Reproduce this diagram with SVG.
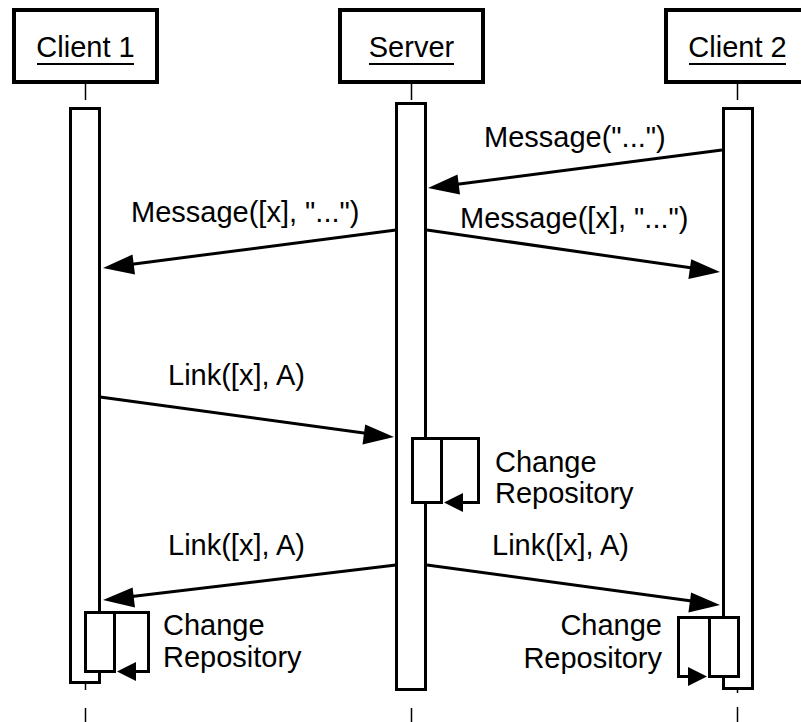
<svg xmlns="http://www.w3.org/2000/svg" width="801" height="722" viewBox="0 0 801 722">
<style>
text{font-family:"Liberation Sans",Arial,sans-serif;font-size:29px;fill:#000}
.hdr{fill:#fff;stroke:#000;stroke-width:4}
.bar{fill:#fff;stroke:#000;stroke-width:3}
.life{stroke:#000;stroke-width:1.5;fill:none}
.msg{stroke:#000;stroke-width:3;fill:none}
.head{fill:#000;stroke:none}
.ul{stroke:#000;stroke-width:2}
</style>
<rect width="801" height="722" fill="#fff"/>
<g id="client1">
<rect class="hdr" x="14" y="10" width="143" height="72"/>
<text x="85.5" y="57" text-anchor="middle">Client 1</text>
<line class="ul" x1="37" y1="64" x2="134" y2="64"/>
<line class="life" x1="85.5" y1="84" x2="85.5" y2="100"/>
<rect class="bar" x="70.5" y="108.5" width="29" height="574"/>
<line class="life" x1="85.5" y1="684" x2="85.5" y2="690"/>
<line class="life" x1="85.5" y1="708" x2="85.5" y2="722"/>
</g>
<g id="server">
<rect class="hdr" x="340" y="10" width="143" height="72"/>
<text x="411.5" y="57" text-anchor="middle">Server</text>
<line class="ul" x1="369" y1="64" x2="454" y2="64"/>
<line class="life" x1="411.5" y1="84" x2="411.5" y2="100"/>
<rect class="bar" x="396.5" y="103.5" width="29" height="586"/>
<line class="life" x1="411.5" y1="708" x2="411.5" y2="722"/>
</g>
<g id="client2">
<rect class="hdr" x="666" y="10" width="143" height="72"/>
<text x="737.5" y="57" text-anchor="middle">Client 2</text>
<line class="ul" x1="689" y1="64" x2="786" y2="64"/>
<line class="life" x1="737.5" y1="84" x2="737.5" y2="100"/>
<rect class="bar" x="723.5" y="108.5" width="29" height="580"/>
<line class="life" x1="737.5" y1="690" x2="737.5" y2="693"/>
<line class="life" x1="737.5" y1="707" x2="737.5" y2="722"/>
</g>
<g id="connectors">
<line class="msg" x1="722" y1="150" x2="438" y2="186.7"/>
<polygon class="head" points="428,188 457.5,174.5 460,194.5"/>
<text x="484" y="147">Message("...")</text>
<line class="msg" x1="396" y1="230" x2="113" y2="266.7"/>
<polygon class="head" points="103,268 132.5,254.5 135,274.5"/>
<text x="131" y="222">Message([x], "...")</text>
<line class="msg" x1="427" y1="230" x2="710" y2="270.6"/>
<polygon class="head" points="720,272 688.4,279 691.2,259.2"/>
<text x="460" y="228">Message([x], "...")</text>
<line class="msg" x1="100" y1="397" x2="384" y2="435.7"/>
<polygon class="head" points="394,437 362.5,444.4 365.2,424.6"/>
<text x="168" y="385">Link([x], A)</text>
<line class="msg" x1="396" y1="565" x2="113" y2="598.8"/>
<polygon class="head" points="103,600 132.6,587.6 135,607.4"/>
<text x="168" y="555">Link([x], A)</text>
<line class="msg" x1="427" y1="565" x2="710" y2="603.6"/>
<polygon class="head" points="720,605 688.4,612.4 691.1,592.6"/>
<text x="492" y="555">Link([x], A)</text>
</g>
<g id="server-self">
<rect class="bar" x="412.5" y="438.5" width="29" height="64"/>
<path class="msg" d="M441,438.5 H478.5 V502.5 H460"/>
<polygon class="head" points="444,502.5 463,493 463,512"/>
<text x="495" y="472">Change</text>
<text x="495" y="503">Repository</text>
</g>
<g id="client1-self">
<rect class="bar" x="85.5" y="612.5" width="29" height="59"/>
<path class="msg" d="M114,612.5 H148.5 V671.5 H132"/>
<polygon class="head" points="117,671.5 136,662 136,681"/>
<text x="163" y="635">Change</text>
<text x="163" y="667">Repository</text>
</g>
<g id="client2-self">
<rect class="bar" x="709.5" y="617.5" width="29" height="59"/>
<path class="msg" d="M710,617.5 H678.5 V676.5 H692"/>
<polygon class="head" points="707,676.5 688,667 688,686"/>
<text x="662" y="635" text-anchor="end">Change</text>
<text x="662" y="668" text-anchor="end">Repository</text>
</g>
</svg>
